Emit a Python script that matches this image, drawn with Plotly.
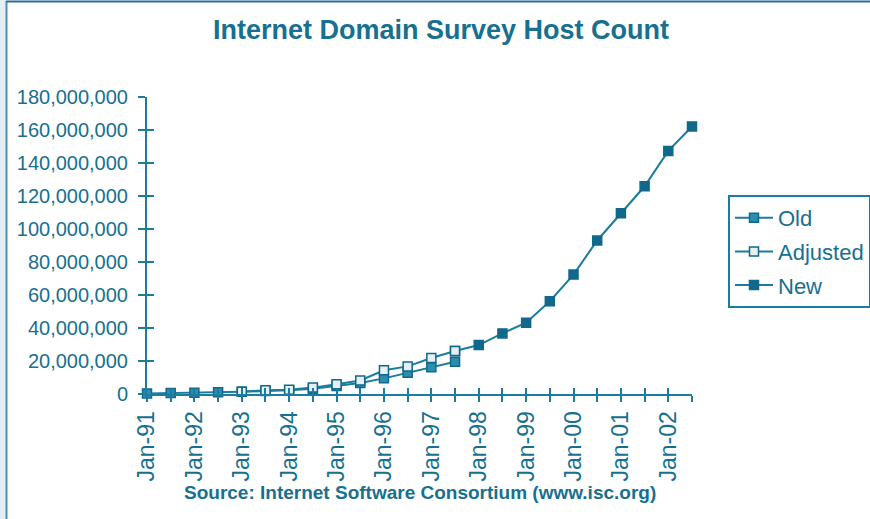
import plotly.graph_objects as go

categories = ["Jan-91", "Jul-91", "Jan-92", "Jul-92", "Jan-93", "Jul-93", "Jan-94", "Jul-94",
              "Jan-95", "Jul-95", "Jan-96", "Jul-96", "Jan-97", "Jul-97", "Jan-98", "Jul-98",
              "Jan-99", "Jul-99", "Jan-00", "Jul-00", "Jan-01", "Jul-01", "Jan-02", "Jul-02"]
tick_labels = [c if c.startswith("Jan") else "" for c in categories]

old_hosts = [376000, 535000, 727000, 992000, 1313000, 1776000, 2217000, 3212000,
             4852000, 6642000, 9472000, 12881000, 16146000, 19540000] + [None] * 10
adjusted_hosts = [None] * 4 + [1313000, 2300000, 2600000, 3864000, 5846000, 8200000,
                               14352000, 16729000, 21819000, 26053000] + [None] * 10
new_hosts = [None] * 13 + [26053000, 29670000, 36739000, 43230000, 56218000, 72398092,
                           93047785, 109574429, 125888197, 147344723, 162128493]

y_ticks = list(range(0, 180000001, 20000000))

TEXT = "#17708f"
LINE = "#1a7d9e"
DARK = "#11688a"
FONT = "Liberation Sans"

W, H = 870, 519
L, R, T, B = 147, 178, 97, 125
pw, ph = W - L - R, H - T - B

fig = go.Figure()
fig.add_trace(go.Scatter(x=categories, y=old_hosts, name="Old", mode="lines+markers",
                         line=dict(color=LINE, width=2),
                         marker=dict(symbol="square", size=9, color="#2b8db0",
                                     line=dict(color=DARK, width=1.5)),
                         legendgroup="a", legendrank=1, cliponaxis=False))
fig.add_trace(go.Scatter(x=categories, y=new_hosts, name="New", mode="lines+markers",
                         line=dict(color=LINE, width=2),
                         marker=dict(symbol="square", size=9, color=DARK,
                                     line=dict(color=DARK, width=1.5)),
                         legendgroup="c", legendrank=3, cliponaxis=False))
fig.add_trace(go.Scatter(x=categories, y=adjusted_hosts, name="Adjusted", mode="lines+markers",
                         line=dict(color=LINE, width=2),
                         marker=dict(symbol="square", size=9, color="#e6eff3",
                                     line=dict(color=DARK, width=1.5)),
                         legendgroup="b", legendrank=2, cliponaxis=False))
# invisible trace carrying the inner half of the crossing ticks
fig.add_trace(go.Scatter(x=categories, y=[None] * len(categories), xaxis="x2", yaxis="y2",
                         showlegend=False, hoverinfo="skip"))

n = len(categories)
fig.update_layout(
    width=W, height=H,
    margin=dict(l=L, r=R, t=T, b=B, autoexpand=False),
    paper_bgcolor="white", plot_bgcolor="white",
    font=dict(family=FONT, color=TEXT, size=20),
    title=dict(text="<b>Internet Domain Survey Host Count</b>", x=441 / W, xanchor="center",
               y=1 - 30 / H, yanchor="middle", font=dict(size=27, color=TEXT, family=FONT)),
    showlegend=True,
    legend=dict(x=(728 - L) / pw, y=(394 - 195) / ph, xanchor="left", yanchor="top",
                bordercolor=LINE, borderwidth=2, bgcolor="white",
                font=dict(size=22, color=TEXT, family=FONT), itemwidth=38,
                entrywidth=160, entrywidthmode="pixels",
                traceorder="grouped", tracegroupgap=2),
    xaxis=dict(type="category", categoryorder="array", categoryarray=categories,
               range=[0, n - 1], tickmode="array", tickvals=categories, ticktext=tick_labels,
               tickangle=-90, ticks="outside", ticklen=6, tickwidth=2, tickcolor=LINE,
               showline=True, linecolor=LINE, linewidth=2, showgrid=False, zeroline=False,
               tickfont=dict(size=23, color=TEXT), fixedrange=True),
    xaxis2=dict(type="category", categoryorder="array", categoryarray=categories,
                overlaying="x", range=[0, n - 1], tickmode="array", tickvals=categories,
                ticks="inside", ticklen=6, tickwidth=2, tickcolor=LINE, showticklabels=False,
                showgrid=False, zeroline=False, showline=False, anchor="y2"),
    yaxis=dict(range=[0, 180000000], tickmode="array", tickvals=y_ticks, tickformat=",d",
               ticks="outside", ticklen=7, tickwidth=2, tickcolor=LINE, ticklabelstandoff=6,
               showline=True, linecolor=LINE, linewidth=2, showgrid=False, zeroline=False,
               tickfont=dict(size=20, color=TEXT)),
    yaxis2=dict(range=[0, 180000000], overlaying="y", side="left", tickmode="array",
                tickvals=y_ticks, ticks="inside", ticklen=7, tickwidth=2, tickcolor=LINE,
                showticklabels=False, showgrid=False, zeroline=False, showline=False,
                anchor="x2"),
    annotations=[dict(text="<b>Source: Internet Software Consortium (www.isc.org)</b>",
                      xref="paper", yref="paper", x=(420 - L) / pw, y=-(492 - 394) / ph,
                      xanchor="center", yanchor="middle", showarrow=False,
                      font=dict(size=19, color=TEXT, family=FONT))],
    shapes=[
        dict(type="rect", xref="paper", yref="paper", x0=-L / pw, x1=(6 - L) / pw,
             y0=-B / ph, y1=1 + T / ph, fillcolor="#e3eef5", line=dict(width=0), layer="below"),
        dict(type="line", xref="paper", yref="paper", x0=(6.5 - L) / pw, x1=(6.5 - L) / pw,
             y0=-B / ph, y1=(394 - 1) / ph, line=dict(color="#4a93b5", width=2)),
        dict(type="line", xref="paper", yref="paper", x0=(6 - L) / pw, x1=1 + R / pw,
             y0=(394 - 1.5) / ph, y1=(394 - 1.5) / ph, line=dict(color="#2a6f9a", width=2)),
    ],
)

fig.write_html("out.html", config={"displayModeBar": False},
               post_script="document.body.style.margin='0';")
